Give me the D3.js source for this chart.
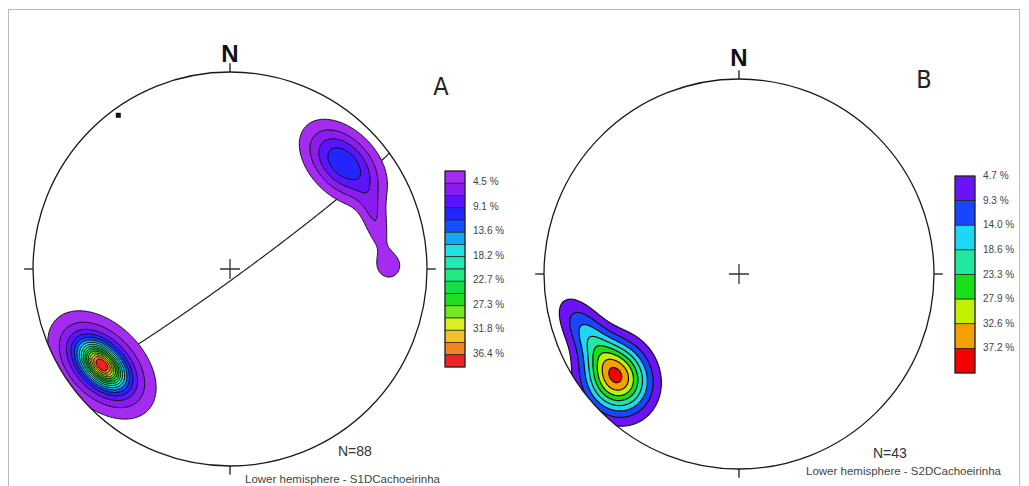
<!DOCTYPE html>
<html>
<head>
<meta charset="utf-8">
<script src="https://cdn.jsdelivr.net/npm/d3@7"></script>
<style>
  body { margin: 0; background: #fff; }
  svg { display: block; font-family: 'Liberation Sans', Arial, sans-serif; }
</style>
</head>
<body>
<div id="chart"></div>
<script>
// contour levels (%) and the labels printed beside each colour bar
const levelsA = [2.3, 4.5, 6.8, 9.1, 11.4, 13.6, 15.9, 18.2, 20.5, 22.7, 25.0, 27.3, 29.6, 31.8, 34.1, 36.4];
const labelsA = ['4.5 %', '9.1 %', '13.6 %', '18.2 %', '22.7 %', '27.3 %', '31.8 %', '36.4 %'];
const levelsB = [4.7, 9.3, 14.0, 18.6, 23.3, 27.9, 32.6, 37.2];
const labelsB = ['4.7 %', '9.3 %', '14.0 %', '18.6 %', '23.3 %', '27.9 %', '32.6 %', '37.2 %'];

// density maxima: [east, north, spread long, spread short, rotation deg, peak %]
const clustersA = [
  [-0.650, -0.487, 0.180, 0.115, -45, 12.0],
  [-0.650, -0.487, 0.085, 0.050, -45, 27.0],
  [ 0.574,  0.538, 0.150, 0.095, -45, 11.0],
  [ 0.736,  0.249, 0.130, 0.045, -75, 3.8],
  [ 0.807,  0.015, 0.055, 0.055, 0, 3.4]
];
const clustersB = [
  [-0.626, -0.533, 0.125, 0.110, -65, 36.0],
  [-0.774, -0.313, 0.144, 0.067, -55, 14.0]
];
// planes as [strike, dip] (right hand rule)
const planesA = [[54, 86]];

const countA = 'N=88', countB = 'N=43';
const captionA = 'Lower hemisphere - S1DCachoeirinha';
const captionB = 'Lower hemisphere - S2DCachoeirinha';

const paletteA = ['#a42cf0', '#8a1cf2', '#5a14ff', '#2424ff', '#1450ff', '#14a8f2', '#22dfe2', '#22e8b2',
                  '#22e882', '#14e044', '#22de22', '#74e622', '#d8f022', '#f2c222', '#f28222', '#f22222'];
const paletteB = ['#6a12f8', '#1846ff', '#1cd8f4', '#20e8a0', '#16e016', '#c2f000', '#f4a000', '#f40000'];

const W = 1029, H = 486;
const svg = d3.select('#chart').append('svg').attr('width', W).attr('height', H);

// frame
svg.append('rect')
  .attr('x', 8.5).attr('y', 9.5).attr('width', 1011).attr('height', 490)
  .attr('fill', '#fff').attr('stroke', '#bbb');

// equal-area projection of a line (trend, plunge in degrees) to unit disc
function project( trend, plunge ) {
  const r = Math.SQRT2 * Math.sin( ( 90 - plunge ) / 2 * Math.PI / 180 );
  const t = trend * Math.PI / 180;
  return [ r * Math.sin( t ), r * Math.cos( t ) ];
}

function greatCircle( strike, dip ) {
  const rad = Math.PI / 180, dd = ( strike + 90 ) * rad, s = strike * rad, d = dip * rad;
  const sv = [ Math.sin( s ), Math.cos( s ), 0 ];
  const dv = [ Math.sin( dd ) * Math.cos( d ), Math.cos( dd ) * Math.cos( d ), -Math.sin( d ) ];
  return d3.range( 0, 180.5, 1 ).map( function( a ) {
    const c = Math.cos( a * rad ), n = Math.sin( a * rad );
    const v = [ c * sv[0] + n * dv[0], c * sv[1] + n * dv[1], c * sv[2] + n * dv[2] ];
    const plunge = Math.asin( Math.max( -1, Math.min( 1, -v[2] ) ) ) / rad;
    const trend = Math.atan2( v[0], v[1] ) / rad;
    return project( trend, plunge );
  });
}

function drawNet( opt ) {
  const cx = opt.cx, cy = opt.cy, R = opt.R;
  const x = d3.scaleLinear().domain( [-1, 1] ).range( [cx - R, cx + R] );
  const y = d3.scaleLinear().domain( [-1, 1] ).range( [cy + R, cy - R] );
  const g = svg.append( 'g' );

  g.append( 'clipPath' ).attr( 'id', opt.id + '-clip' )
    .append( 'circle' ).attr( 'cx', cx ).attr( 'cy', cy ).attr( 'r', R );

  const inner = g.append( 'g' ).attr( 'clip-path', 'url(#' + opt.id + '-clip)' );

  // great circles (under the contours)
  const line = d3.line().x( d => x( d[0] ) ).y( d => y( d[1] ) );
  ( opt.planes || [] ).forEach( function( p ) {
    inner.append( 'path' ).attr( 'd', line( greatCircle( p[0], p[1] ) ) )
      .attr( 'fill', 'none' ).attr( 'stroke', '#222' ).attr( 'stroke-width', 1.2 );
  });

  // density grid
  const n = 300, values = new Array( n * n );
  for ( let j = 0; j < n; j++ ) {
    for ( let i = 0; i < n; i++ ) {
      const ux = -1 + 2 * ( i + 0.5 ) / n, uy = 1 - 2 * ( j + 0.5 ) / n;
      let v = 0;
      opt.clusters.forEach( function( c ) {
        const rot = c[4] * Math.PI / 180;
        const dx = ux - c[0], dy = uy - c[1];
        const a = ( dx * Math.cos( rot ) + dy * Math.sin( rot ) ) / c[2];
        const b = ( -dx * Math.sin( rot ) + dy * Math.cos( rot ) ) / c[3];
        v += c[5] * Math.exp( -0.5 * ( a * a + b * b ) );
      });
      values[ i + j * n ] = v;
    }
  }
  const contours = d3.contours().size( [n, n] ).thresholds( opt.levels )( values );
  const proj = d3.geoTransform({
    point: function( gx, gy ) { this.stream.point( x( -1 + 2 * gx / n ), y( 1 - 2 * gy / n ) ); }
  });
  const path = d3.geoPath( proj );
  inner.selectAll( 'path.band' )
    .data( contours )
    .enter().append( 'path' )
      .attr( 'class', 'band' )
      .attr( 'd', path )
      .attr( 'fill', ( d, k ) => opt.palette[k] )
      .attr( 'stroke', '#111' )
      .attr( 'stroke-width', opt.contourWidth )
      .attr( 'stroke-linejoin', 'round' );

  // primitive circle and cardinal ticks
  g.append( 'circle' ).attr( 'cx', cx ).attr( 'cy', cy ).attr( 'r', R )
    .attr( 'fill', 'none' ).attr( 'stroke', '#1a1a1a' ).attr( 'stroke-width', 1.3 );
  [ [0, 1], [1, 0], [0, -1], [-1, 0] ].forEach( function( t ) {
    g.append( 'line' )
      .attr( 'x1', x( t[0] ) ).attr( 'y1', y( t[1] ) )
      .attr( 'x2', x( t[0] * 1.045 ) ).attr( 'y2', y( t[1] * 1.045 ) )
      .attr( 'stroke', '#1a1a1a' ).attr( 'stroke-width', 1.3 );
  });
  // centre cross
  g.append( 'path' )
    .attr( 'd', 'M' + ( cx - 10 ) + ',' + cy + 'H' + ( cx + 10 ) + 'M' + cx + ',' + ( cy - 10 ) + 'V' + ( cy + 10 ) )
    .attr( 'stroke', '#333' ).attr( 'stroke-width', 1.3 );

  // poles of planes
  ( opt.planes || [] ).forEach( function( p ) {
    const pt = project( p[0] + 90 + 180, 90 - p[1] );
    g.append( 'rect' ).attr( 'x', x( pt[0] ) - 2.5 ).attr( 'y', y( pt[1] ) - 2.5 )
      .attr( 'width', 5 ).attr( 'height', 5 ).attr( 'fill', '#111' );
  });

  g.append( 'text' ).attr( 'x', cx ).attr( 'y', opt.nY )
    .attr( 'text-anchor', 'middle' ).attr( 'font-size', 24 ).attr( 'font-weight', 'bold' )
    .attr( 'fill', '#111' ).text( 'N' );
  g.append( 'text' ).attr( 'x', opt.letterX ).attr( 'y', opt.letterY )
    .attr( 'text-anchor', 'middle' ).attr( 'font-size', 25 )
    .style( 'font-family', "'Liberation Sans Narrow', 'DejaVu Sans Condensed', sans-serif" )
    .attr( 'fill', '#222' ).text( opt.letter );
  g.append( 'text' ).attr( 'x', opt.countX ).attr( 'y', opt.countY )
    .attr( 'font-size', 14 ).attr( 'fill', '#333' ).text( opt.count );
  g.append( 'text' ).attr( 'x', opt.capX ).attr( 'y', opt.capY )
    .attr( 'font-size', 11.5 ).attr( 'fill', '#444' ).text( opt.caption );

  // colour bar
  const band = d3.scaleBand().domain( d3.range( opt.levels.length ) ).range( [opt.barY0, opt.barY1] );
  const bar = g.append( 'g' );
  bar.selectAll( 'rect' ).data( opt.levels ).enter().append( 'rect' )
    .attr( 'x', opt.barX ).attr( 'y', ( d, k ) => band( k ) )
    .attr( 'width', 20 ).attr( 'height', band.bandwidth() )
    .attr( 'fill', ( d, k ) => opt.palette[k] )
    .attr( 'stroke', '#222' ).attr( 'stroke-width', 0.7 );
  bar.append( 'rect' ).attr( 'x', opt.barX ).attr( 'y', opt.barY0 )
    .attr( 'width', 20 ).attr( 'height', opt.barY1 - opt.barY0 )
    .attr( 'fill', 'none' ).attr( 'stroke', '#222' ).attr( 'stroke-width', 1 );
  bar.selectAll( 'text' ).data( opt.labels ).enter().append( 'text' )
    .attr( 'x', opt.barX + 28 )
    .attr( 'y', ( d, k ) => band( opt.labelBands[k] ) + opt.labelDy )
    .attr( 'font-size', 10 ).attr( 'fill', '#444' )
    .text( d => d );
}

drawNet({
  id: 'a', cx: 230, cy: 269, R: 197,
  clusters: clustersA, levels: levelsA, palette: paletteA, planes: planesA, contourWidth: 1,
  labels: labelsA, labelBands: [1, 3, 5, 7, 9, 11, 13, 15], labelDy: 2,
  barX: 445, barY0: 171, barY1: 367,
  nY: 62, letter: 'A', letterX: 441, letterY: 95,
  count: countA, countX: 338, countY: 456,
  caption: captionA, capX: 245, capY: 483
});

drawNet({
  id: 'b', cx: 739, cy: 274, R: 195,
  clusters: clustersB, levels: levelsB, palette: paletteB, contourWidth: 1.2,
  labels: labelsB, labelBands: [0, 1, 2, 3, 4, 5, 6, 7], labelDy: 3,
  barX: 955, barY0: 176, barY1: 373,
  nY: 66, letter: 'B', letterX: 924, letterY: 88,
  count: countB, countX: 873, countY: 458,
  caption: captionB, capX: 806, capY: 475
});
</script>
</body>
</html>
